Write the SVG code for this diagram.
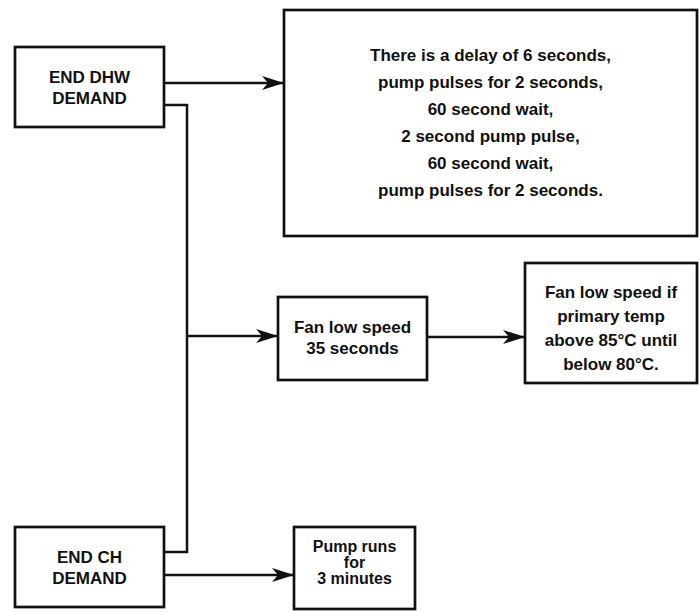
<svg xmlns="http://www.w3.org/2000/svg" width="699" height="612" viewBox="0 0 699 612">
<style>
.box{fill:#fff;stroke:#111;stroke-width:2.7}
.ln{fill:none;stroke:#111;stroke-width:2.5}
.t{font-family:"Liberation Sans",Arial,sans-serif;font-weight:bold;font-size:17px;fill:#111;text-anchor:middle}
.s{font-size:16px}
</style>
<defs>
<marker id="ah" markerUnits="userSpaceOnUse" viewBox="0 0 22 14" refX="22" refY="7" markerWidth="22" markerHeight="14" orient="auto">
<path d="M0,0 L22,7 L0,14 L6,7 Z" fill="#111"/>
</marker>
</defs>
<rect width="699" height="612" fill="#fff"/>
<g id="connectors">
<line class="ln" x1="164" y1="83" x2="284" y2="83" marker-end="url(#ah)"/>
<polyline class="ln" points="164,105 187,105 187,552 164,552"/>
<line class="ln" x1="187" y1="336" x2="278" y2="336" marker-end="url(#ah)"/>
<line class="ln" x1="427" y1="337" x2="525" y2="337" marker-end="url(#ah)"/>
<line class="ln" x1="164" y1="575" x2="294" y2="575" marker-end="url(#ah)"/>
</g>
<g id="end-dhw">
<rect class="box" x="15" y="47" width="149" height="80"/>
<text class="t" x="89.5" y="83">END DHW</text>
<text class="t" x="89.5" y="104">DEMAND</text>
</g>
<g id="pulse-sequence">
<rect class="box" x="284" y="10" width="413" height="226"/>
<text class="t" x="490.5" y="61">There is a delay of 6 seconds,</text>
<text class="t" x="490.5" y="88">pump pulses for 2 seconds,</text>
<text class="t" x="490.5" y="115">60 second wait,</text>
<text class="t" x="490.5" y="142">2 second pump pulse,</text>
<text class="t" x="490.5" y="169">60 second wait,</text>
<text class="t" x="490.5" y="196">pump pulses for 2 seconds.</text>
</g>
<g id="fan-35">
<rect class="box" x="278" y="297" width="149" height="83"/>
<text class="t" x="352.5" y="333">Fan low speed</text>
<text class="t" x="352.5" y="354">35 seconds</text>
</g>
<g id="fan-temp">
<rect class="box" x="525" y="263" width="172" height="120"/>
<text class="t" x="611" y="298">Fan low speed if</text>
<text class="t" x="611" y="322">primary temp</text>
<text class="t" x="611" y="346">above 85°C until</text>
<text class="t" x="611" y="370">below 80°C.</text>
</g>
<g id="end-ch">
<rect class="box" x="15" y="527" width="149" height="80"/>
<text class="t" x="89.5" y="563">END CH</text>
<text class="t" x="89.5" y="584">DEMAND</text>
</g>
<g id="pump-3min">
<rect class="box" x="294" y="527" width="121" height="82"/>
<text class="t s" x="354.5" y="552">Pump runs</text>
<text class="t s" x="354.5" y="568">for</text>
<text class="t s" x="354.5" y="584">3 minutes</text>
</g>
</svg>
